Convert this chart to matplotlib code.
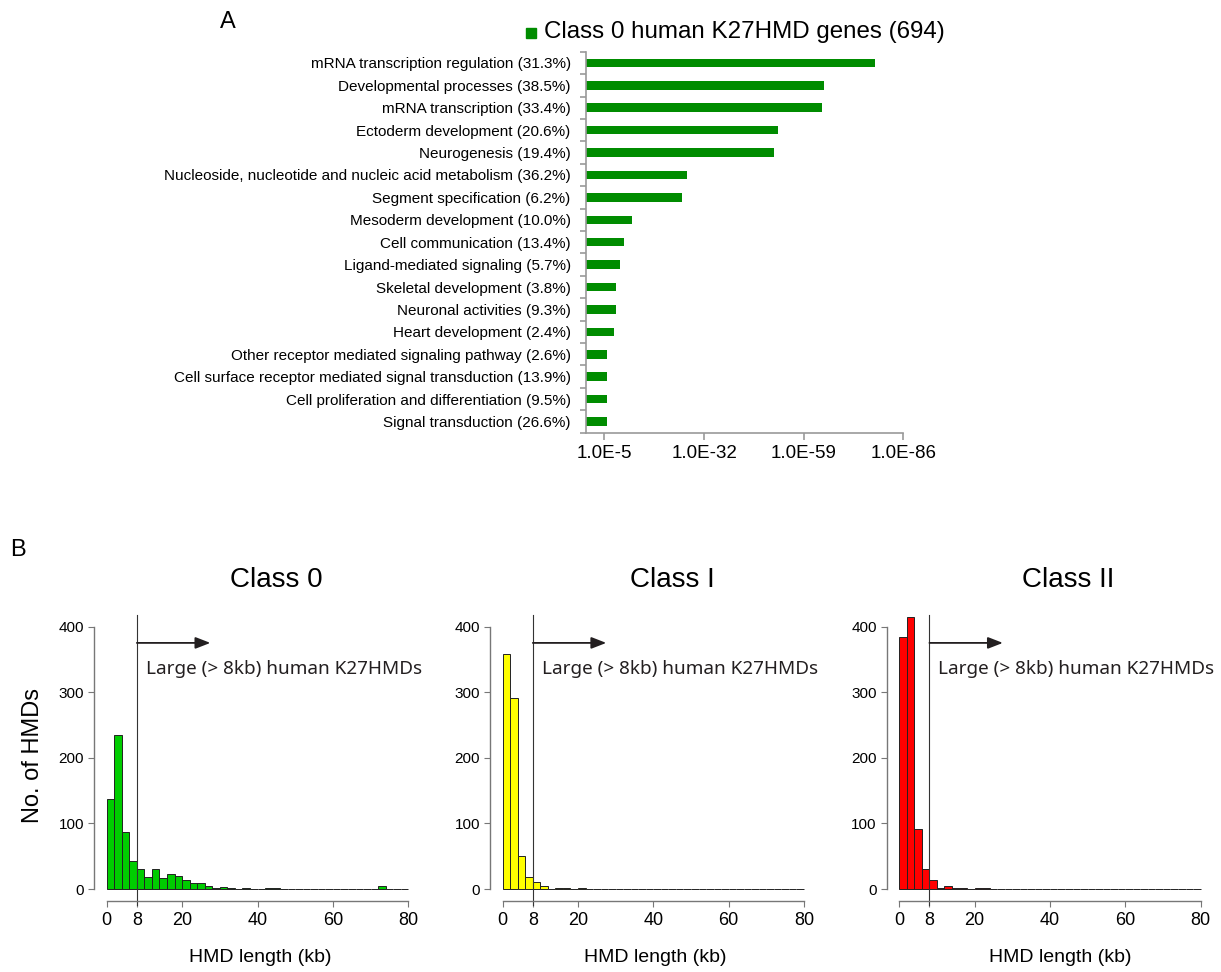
import matplotlib
matplotlib.use("Agg")
import matplotlib.pyplot as plt
import numpy as np

plt.rcParams['font.family'] = ['Liberation Sans', 'DejaVu Sans']

# ---------------- Panel A data ----------------
go_terms = [
    "mRNA transcription regulation (31.3%)",
    "Developmental processes (38.5%)",
    "mRNA transcription (33.4%)",
    "Ectoderm development (20.6%)",
    "Neurogenesis (19.4%)",
    "Nucleoside, nucleotide and nucleic acid metabolism (36.2%)",
    "Segment specification (6.2%)",
    "Mesoderm development (10.0%)",
    "Cell communication (13.4%)",
    "Ligand-mediated signaling (5.7%)",
    "Skeletal development (3.8%)",
    "Neuronal activities (9.3%)",
    "Heart development (2.4%)",
    "Other receptor mediated signaling pathway (2.6%)",
    "Cell surface receptor mediated signal transduction (13.9%)",
    "Cell proliferation and differentiation (9.5%)",
    "Signal transduction (26.6%)",
]
neg_log10_p = [78.2, 64.6, 64.0, 52.1, 51.0, 27.5, 26.0, 12.4, 10.3, 9.2,
               8.2, 8.2, 7.7, 5.7, 5.7, 5.7, 5.7]
pval_ticks = [5, 32, 59, 86]
pval_ticklabels = ["1.0E-5", "1.0E-32", "1.0E-59", "1.0E-86"]
legend_label = "Class 0 human K27HMD genes (694)"

# ---------------- Panel B data ----------------
bin_edges_kb = list(range(0, 82, 2))
class0_counts = [137, 235, 87, 42, 31, 18, 31, 17, 23, 20,
                 14, 9, 9, 4, 2, 3, 2, 0, 1, 0,
                 0, 2, 1, 0, 0, 0, 0, 0, 0, 0,
                 0, 0, 0, 0, 0, 0, 5, 0, 0, 0]
classI_counts = [358, 291, 50, 18, 11, 5, 0, 2, 1, 0,
                 1, 0, 0, 0, 0, 0, 0, 0, 0, 0,
                 0, 0, 0, 0, 0, 0, 0, 0, 0, 0,
                 0, 0, 0, 0, 0, 0, 0, 0, 0, 0]
classII_counts = [384, 414, 92, 30, 13, 1, 4, 2, 1, 0,
                  1, 1, 0, 0, 0, 0, 0, 0, 0, 0,
                  0, 0, 0, 0, 0, 0, 0, 0, 0, 0,
                  0, 0, 0, 0, 0, 0, 0, 0, 0, 0]
class_names = ["Class 0", "Class I", "Class II"]
class_colors = ["#00CD00", "#FFFF00", "#FF0000"]
x_ticks_kb = [0, 8, 20, 40, 60, 80]
y_ticks_n = [0, 100, 200, 300, 400]
threshold_kb = 8
arrow_end_kb = 27.5
annot_text = "Large (> 8kb) human K27HMDs"

W, H = 1221, 972
fig = plt.figure(figsize=(W / 100, H / 100), dpi=100)


def px_axes(x0, y0, x1, y1):
    """x0,y0 top-left px; x1,y1 bottom-right px"""
    return fig.add_axes([x0 / W, 1 - y1 / H, (x1 - x0) / W, (y1 - y0) / H])

# ---------------- Panel A ----------------
axA = px_axes(586, 51.7, 903.3, 432.7)
ypos = np.arange(len(go_terms))
axA.barh(ypos, neg_log10_p, height=0.38, color="#008C00", edgecolor="none")
axA.set_ylim(len(go_terms) - 0.5, -0.5)
axA.set_xlim(0, 86)
for s in ["top", "right"]:
    axA.spines[s].set_visible(False)
for s in ["left", "bottom"]:
    axA.spines[s].set_color("#999999")
    axA.spines[s].set_linewidth(1.2)
axA.set_yticks(ypos)
axA.set_yticklabels(go_terms, fontsize=11)
axA.tick_params(axis="y", which="major", length=0, pad=11)
axA.set_yticks(np.arange(len(go_terms) + 1) - 0.5, minor=True)
axA.tick_params(axis="y", which="minor", length=4, color="#999999", width=1.2)
axA.set_xticks(pval_ticks)
axA.set_xticklabels(pval_ticklabels, fontsize=13.5)
axA.tick_params(axis="x", length=5, color="#999999", width=1.2, pad=4)

fig.patches.append(plt.Rectangle((526 / W, 1 - 38 / H), 10 / W, 10 / H,
                                 transform=fig.transFigure, color="#008C00"))
fig.text(544 / W, 1 - 32 / H, legend_label, fontsize=17.4, va="center", ha="left")
fig.text(228 / W, 1 - 22 / H, "A", fontsize=17, ha="center", va="center")
fig.text(18 / W, 1 - 550 / H, "B", fontsize=17, ha="center", va="center")

# ---------------- Panel B ----------------
hist_pos = [(106.7, 408.3), (502.7, 804.0), (899.3, 1200.6)]
title_x = [276.7, 672, 1068]
xlabel_x = [260, 655, 1060]
all_counts = [class0_counts, classI_counts, classII_counts]
edges = np.array(bin_edges_kb)
for i in range(3):
    x0, x1 = hist_pos[i]
    ax = px_axes(x0, 626.5, x1, 889)
    ax.bar(edges[:-1], all_counts[i], width=np.diff(edges), align="edge",
           color=class_colors[i], edgecolor="#222222", linewidth=0.7,
           clip_on=False)
    ax.set_xlim(0, 80)
    ax.set_ylim(0, 400)
    for s in ["top", "right"]:
        ax.spines[s].set_visible(False)
    ax.spines["left"].set_position(("outward", 9.2))
    ax.spines["bottom"].set_position(("outward", 8.6))
    ax.spines["left"].set_bounds(0, 400)
    ax.spines["bottom"].set_bounds(0, 80)
    for s in ["left", "bottom"]:
        ax.spines[s].set_color("#777777")
        ax.spines[s].set_linewidth(1.0)
    ax.set_xticks(x_ticks_kb)
    ax.set_yticks(y_ticks_n)
    ax.tick_params(axis="x", labelsize=13, length=4, color="#777777", pad=4)
    ax.tick_params(axis="y", labelsize=11, length=4, color="#777777", pad=3)
    ax.plot([threshold_kb, threshold_kb], [-25, 417], color="#333333",
            linewidth=0.8, clip_on=False)
    ax.annotate("", xy=(arrow_end_kb, 375), xytext=(threshold_kb, 375),
                arrowprops=dict(arrowstyle="-|>,head_length=0.9,head_width=0.35",
                                color="#231F20", lw=1.3, shrinkA=0, shrinkB=0),
                annotation_clip=False)
    ax.text(10.4, 336, annot_text, fontsize=13.6, ha="left", va="center",
            family=["Noto Sans", "DejaVu Sans"], color="#231F20")
    fig.text(title_x[i] / W, 1 - 580 / H, class_names[i], fontsize=20,
             ha="center", va="center")
    fig.text(xlabel_x[i] / W, 1 - 957 / H, "HMD length (kb)", fontsize=14,
             ha="center", va="center")

fig.text(33 / W, 1 - 755 / H, "No. of HMDs", fontsize=17, rotation=90,
         ha="center", va="center")

fig.savefig("out.png", dpi=100)
